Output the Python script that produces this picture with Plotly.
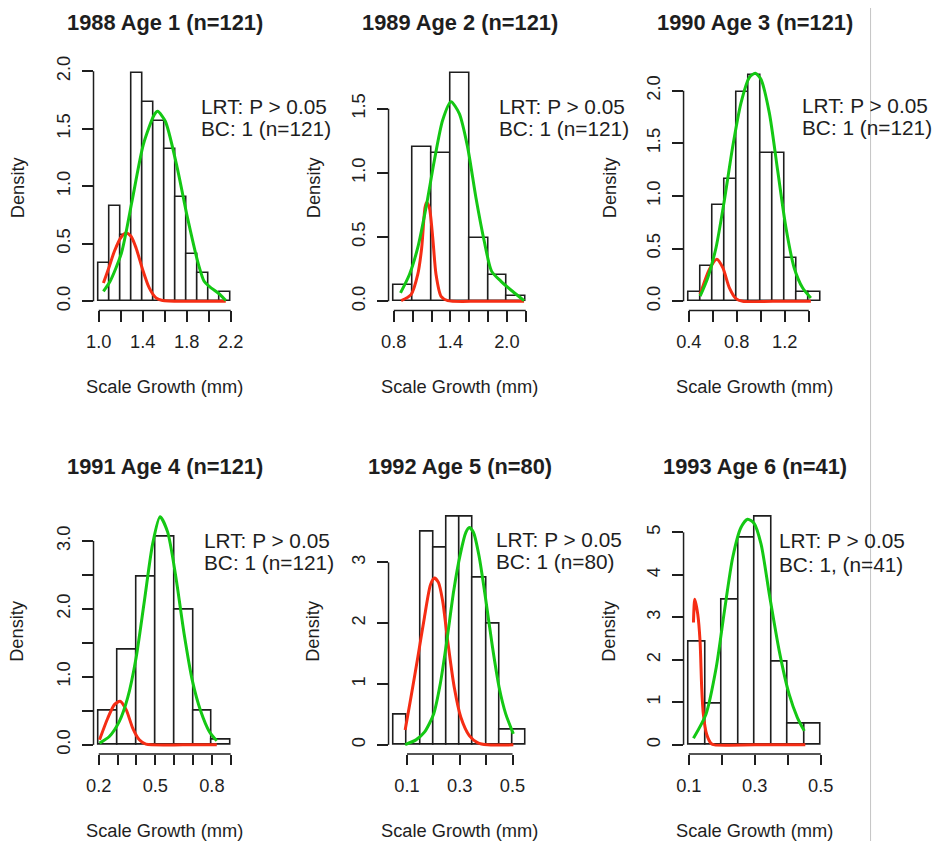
import plotly.graph_objects as go

# ---------------- data ----------------
titles = ["1988 Age 1 (n=121)", "1989 Age 2 (n=121)", "1990 Age 3 (n=121)",
          "1991 Age 4 (n=121)", "1992 Age 5 (n=80)", "1993 Age 6 (n=41)"]

lrt_text = ["LRT: P > 0.05"] * 6
bc_text = ["BC: 1 (n=121)", "BC: 1 (n=121)", "BC: 1 (n=121)",
           "BC: 1 (n=121)", "BC: 1 (n=80)", "BC: 1, (n=41)"]

x_label = "Scale Growth (mm)"
y_label = "Density"

# histogram bin edges and densities
breaks_1988 = [1.0, 1.1, 1.2, 1.3, 1.4, 1.5, 1.6, 1.7, 1.8, 1.9, 2.0, 2.1, 2.2]
dens_1988 = [0.331, 0.826, 0.579, 1.983, 1.736, 1.570, 1.322, 0.909, 0.413, 0.248, 0.0, 0.083]

breaks_1989 = [0.8, 1.0, 1.2, 1.4, 1.6, 1.8, 2.0, 2.2]
dens_1989 = [0.124, 1.198, 1.157, 1.777, 0.496, 0.207, 0.041]

breaks_1990 = [0.4, 0.5, 0.6, 0.7, 0.8, 0.9, 1.0, 1.1, 1.2, 1.3, 1.4, 1.5]
dens_1990 = [0.083, 0.331, 0.909, 1.157, 1.983, 2.149, 1.405, 1.405, 0.413, 0.083, 0.083]

breaks_1991 = [0.2, 0.3, 0.4, 0.5, 0.6, 0.7, 0.8, 0.9]
dens_1991 = [0.496, 1.405, 2.479, 3.058, 1.983, 0.496, 0.083]

breaks_1992 = [0.05, 0.10, 0.15, 0.20, 0.25, 0.30, 0.35, 0.40, 0.45, 0.50, 0.55]
dens_1992 = [0.5, 0.0, 3.5, 3.25, 3.75, 3.75, 2.75, 2.0, 0.25, 0.25]

breaks_1993 = [0.10, 0.15, 0.20, 0.25, 0.30, 0.35, 0.40, 0.45, 0.50]
dens_1993 = [2.439, 0.976, 3.415, 4.878, 5.366, 1.951, 0.488, 0.488]

# fitted component curves (green = main, red = minor)
green_x_1988 = [1.042, 1.103, 1.206, 1.302, 1.405, 1.505, 1.535, 1.605, 1.707, 1.807, 1.907, 1.958, 2.004, 2.103, 2.155]
green_y_1988 = [0.087, 0.174, 0.420, 0.870, 1.362, 1.623, 1.652, 1.565, 1.188, 0.725, 0.319, 0.174, 0.130, 0.058, 0.006]
red_x_1988 = [1.042, 1.091, 1.142, 1.203, 1.248, 1.293, 1.339, 1.399, 1.459, 1.520, 1.580, 1.800, 2.155]
red_y_1988 = [0.159, 0.290, 0.435, 0.557, 0.594, 0.565, 0.464, 0.275, 0.116, 0.029, 0.006, 0.0, 0.0]

green_x_1989 = [0.871, 0.966, 1.054, 1.142, 1.230, 1.318, 1.406, 1.495, 1.583, 1.671, 1.759, 1.837, 1.935, 2.059, 2.182]
green_y_1989 = [0.065, 0.209, 0.418, 0.731, 1.097, 1.410, 1.554, 1.462, 1.201, 0.809, 0.470, 0.235, 0.157, 0.078, 0.005]
red_x_1989 = [0.878, 0.983, 1.054, 1.096, 1.131, 1.149, 1.177, 1.213, 1.248, 1.301, 1.371, 1.700, 2.182]
red_y_1989 = [0.005, 0.052, 0.209, 0.418, 0.731, 0.770, 0.731, 0.496, 0.209, 0.039, 0.005, 0.0, 0.0]

green_x_1990 = [0.494, 0.558, 0.627, 0.696, 0.766, 0.835, 0.904, 0.954, 1.001, 1.071, 1.140, 1.209, 1.278, 1.348, 1.417]
green_y_1990 = [0.048, 0.224, 0.511, 0.958, 1.470, 1.885, 2.125, 2.166, 2.109, 1.789, 1.246, 0.703, 0.319, 0.128, 0.032]
red_x_1990 = [0.494, 0.572, 0.633, 0.683, 0.738, 0.793, 0.849, 1.100, 1.417]
red_y_1990 = [0.064, 0.304, 0.399, 0.319, 0.128, 0.026, 0.0, 0.0, 0.0]

green_x_1991 = [0.204, 0.256, 0.309, 0.353, 0.398, 0.442, 0.486, 0.525, 0.565, 0.609, 0.653, 0.697, 0.741, 0.786, 0.826]
green_y_1991 = [0.025, 0.123, 0.345, 0.691, 1.283, 2.121, 2.960, 3.355, 3.133, 2.467, 1.628, 0.937, 0.493, 0.197, 0.059]
red_x_1991 = [0.204, 0.248, 0.283, 0.313, 0.345, 0.380, 0.415, 0.450, 0.650, 0.826]
red_y_1991 = [0.074, 0.395, 0.592, 0.641, 0.518, 0.247, 0.074, 0.010, 0.0, 0.0]

green_x_1992 = [0.093, 0.134, 0.166, 0.201, 0.226, 0.251, 0.277, 0.302, 0.323, 0.336, 0.352, 0.374, 0.399, 0.424, 0.449, 0.474, 0.503]
green_y_1992 = [0.005, 0.082, 0.208, 0.509, 1.002, 1.713, 2.534, 3.136, 3.492, 3.574, 3.492, 3.082, 2.370, 1.604, 0.947, 0.509, 0.181]
red_x_1992 = [0.093, 0.115, 0.141, 0.166, 0.189, 0.204, 0.219, 0.235, 0.254, 0.279, 0.304, 0.336, 0.367, 0.405, 0.503]
red_y_1992 = [0.246, 0.783, 1.440, 2.096, 2.633, 2.742, 2.671, 2.370, 1.713, 0.947, 0.454, 0.153, 0.038, 0.0, 0.0]

green_x_1993 = [0.114, 0.152, 0.183, 0.208, 0.233, 0.258, 0.278, 0.298, 0.319, 0.344, 0.374, 0.404, 0.429, 0.450]
green_y_1993 = [0.157, 0.722, 1.820, 3.153, 4.408, 5.114, 5.310, 5.208, 4.722, 3.545, 2.212, 1.192, 0.643, 0.329]
red_x_1993 = [0.114, 0.118, 0.127, 0.134, 0.139, 0.144, 0.154, 0.168, 0.178, 0.300, 0.453]
red_y_1993 = [2.878, 3.427, 3.075, 2.447, 1.349, 0.722, 0.251, 0.031, 0.0, 0.0, 0.0]

# axis ticks and tick labels
xticks_1988 = [1.0, 1.2, 1.4, 1.6, 1.8, 2.0, 2.2]
xtlab_1988 = ["1.0", "", "1.4", "", "1.8", "", "2.2"]
xticks_1989 = [0.8, 1.0, 1.2, 1.4, 1.6, 1.8, 2.0, 2.2]
xtlab_1989 = ["0.8", "", "", "1.4", "", "", "2.0", ""]
xticks_1990 = [0.4, 0.6, 0.8, 1.0, 1.2, 1.4]
xtlab_1990 = ["0.4", "", "0.8", "", "1.2", ""]
xticks_1991 = [0.2, 0.3, 0.4, 0.5, 0.6, 0.7, 0.8, 0.9]
xtlab_1991 = ["0.2", "", "", "0.5", "", "", "0.8", ""]
xticks_1992 = [0.1, 0.2, 0.3, 0.4, 0.5]
xtlab_1992 = ["0.1", "", "0.3", "", "0.5"]
xticks_1993 = [0.1, 0.2, 0.3, 0.4, 0.5]
xtlab_1993 = ["0.1", "", "0.3", "", "0.5"]

yticks_1988 = [0.0, 0.5, 1.0, 1.5, 2.0]
ytlab_1988 = ["0.0", "0.5", "1.0", "1.5", "2.0"]
yticks_1989 = [0.0, 0.5, 1.0, 1.5]
ytlab_1989 = ["0.0", "0.5", "1.0", "1.5"]
yticks_1990 = [0.0, 0.5, 1.0, 1.5, 2.0]
ytlab_1990 = ["0.0", "0.5", "1.0", "1.5", "2.0"]
yticks_1991 = [0.0, 0.5, 1.0, 1.5, 2.0, 2.5, 3.0]
ytlab_1991 = ["0.0", "", "1.0", "", "2.0", "", "3.0"]
yticks_1992 = [0, 1, 2, 3]
ytlab_1992 = ["0", "1", "2", "3"]
yticks_1993 = [0, 1, 2, 3, 4, 5]
ytlab_1993 = ["0", "1", "2", "3", "4", "5"]

panels = [
    dict(br=breaks_1988, d=dens_1988, gx=green_x_1988, gy=green_y_1988, rx=red_x_1988, ry=red_y_1988,
         xt=xticks_1988, xl=xtlab_1988, yt=yticks_1988, yl=ytlab_1988),
    dict(br=breaks_1989, d=dens_1989, gx=green_x_1989, gy=green_y_1989, rx=red_x_1989, ry=red_y_1989,
         xt=xticks_1989, xl=xtlab_1989, yt=yticks_1989, yl=ytlab_1989),
    dict(br=breaks_1990, d=dens_1990, gx=green_x_1990, gy=green_y_1990, rx=red_x_1990, ry=red_y_1990,
         xt=xticks_1990, xl=xtlab_1990, yt=yticks_1990, yl=ytlab_1990),
    dict(br=breaks_1991, d=dens_1991, gx=green_x_1991, gy=green_y_1991, rx=red_x_1991, ry=red_y_1991,
         xt=xticks_1991, xl=xtlab_1991, yt=yticks_1991, yl=ytlab_1991),
    dict(br=breaks_1992, d=dens_1992, gx=green_x_1992, gy=green_y_1992, rx=red_x_1992, ry=red_y_1992,
         xt=xticks_1992, xl=xtlab_1992, yt=yticks_1992, yl=ytlab_1992),
    dict(br=breaks_1993, d=dens_1993, gx=green_x_1993, gy=green_y_1993, rx=red_x_1993, ry=red_y_1993,
         xt=xticks_1993, xl=xtlab_1993, yt=yticks_1993, yl=ytlab_1993),
]

# ---------------- layout / style ----------------
FIG_W, FIG_H = 938, 842
# observed capture mapping: screen = VIEW_SCALE * page + VIEW_OFF  (compensated below)
VIEW_SCALE_X = 0.985
VIEW_SCALE_Y = 0.988
VIEW_OFF = 8.0

# target positions in reference-image pixels
COL_LEFT = [94.5, 389.5, 684.5]
REGION_W = 142.5
ROW_TOP = [64.0, 507.0]
REGION_H = 246.0
TITLE_Y = [22.0, 466.0]
XLAB_Y = [386.0, 829.0]
YLAB_X = [18.0, 314.0, 610.0]
# LRT / BC text: (left px, line-1 centre px, line-2 centre px)
NOTE_POS = [(200.0, 106.0, 128.0), (498.0, 106.0, 128.0), (800.5, 105.0, 127.0),
            (203.0, 540.0, 562.0), (495.0, 538.5, 561.0), (777.5, 539.5, 564.0)]

FONT = "Liberation Sans, Arial, Helvetica, sans-serif"
INK = "#1e1e1e"
GREEN = "#14c814"
RED = "#f52d14"


def s(v):
    return v / VIEW_SCALE_X


def fx(p):
    return ((p - VIEW_OFF) / VIEW_SCALE_X) / FIG_W


def fy(p):
    return 1 - ((p - VIEW_OFF) / VIEW_SCALE_Y) / FIG_H


fig = go.Figure()
layout = dict(width=FIG_W, height=FIG_H, autosize=False,
              margin=dict(l=0, r=0, t=0, b=0),
              paper_bgcolor="white", plot_bgcolor="white",
              showlegend=False, bargap=0, font=dict(family=FONT, color=INK, size=s(18)))
shapes = []
annotations = []

for i, p in enumerate(panels):
    r, c = divmod(i, 3)
    xr = "x" if i == 0 else f"x{i + 1}"
    yr = "y" if i == 0 else f"y{i + 1}"
    xa = "xaxis" if i == 0 else f"xaxis{i + 1}"
    ya = "yaxis" if i == 0 else f"yaxis{i + 1}"

    br = p["br"]
    mids = [(br[j] + br[j + 1]) / 2 for j in range(len(br) - 1)]
    widths = [br[j + 1] - br[j] for j in range(len(br) - 1)]
    fig.add_trace(go.Bar(x=mids, y=p["d"], width=widths, xaxis=xr, yaxis=yr,
                         marker=dict(color="white", line=dict(color=INK, width=1.6)),
                         hoverinfo="skip"))
    fig.add_trace(go.Scatter(x=p["rx"], y=p["ry"], mode="lines", xaxis=xr, yaxis=yr,
                             line=dict(color=RED, width=3, shape="spline", smoothing=0.7),
                             hoverinfo="skip"))
    fig.add_trace(go.Scatter(x=p["gx"], y=p["gy"], mode="lines", xaxis=xr, yaxis=yr,
                             line=dict(color=GREEN, width=3, shape="spline", smoothing=0.7),
                             hoverinfo="skip"))

    x0, x1 = br[0], br[-1]
    dx = (x1 - x0) * 0.04
    ytop = max(max(p["d"]), max(p["gy"]), max(p["ry"]))
    dy = ytop * 0.04

    left = COL_LEFT[c]
    top = ROW_TOP[r]
    layout[xa] = dict(domain=[fx(left), fx(left + REGION_W)], range=[x0 - dx, x1 + dx],
                      anchor=yr, showgrid=False, zeroline=False, showline=False,
                      ticks="outside", ticklen=s(10), tickwidth=1.5, tickcolor=INK,
                      tickmode="array", tickvals=p["xt"], ticktext=p["xl"],
                      tickfont=dict(family=FONT, size=s(18), color=INK), ticklabelstandoff=5,
                      fixedrange=True)
    layout[ya] = dict(domain=[fy(top + REGION_H), fy(top)], range=[-dy, ytop + dy],
                      anchor=xr, showgrid=False, zeroline=False, showline=False,
                      ticks="outside", ticklen=s(10), tickwidth=1.5, tickcolor=INK,
                      tickmode="array", tickvals=p["yt"], ticktext=p["yl"], tickangle=-90,
                      tickfont=dict(family=FONT, size=s(18), color=INK), ticklabelstandoff=5,
                      fixedrange=True)

    # R-style axis lines spanning first to last tick
    shapes.append(dict(type="line", xref=xr, yref=f"{yr} domain",
                       x0=p["xt"][0], x1=p["xt"][-1], y0=0, y1=0,
                       line=dict(color=INK, width=1.5)))
    shapes.append(dict(type="line", xref=f"{xr} domain", yref=yr,
                       x0=0, x1=0, y0=p["yt"][0], y1=p["yt"][-1],
                       line=dict(color=INK, width=1.5)))

    cx = left + REGION_W / 2
    annotations.append(dict(text=f"<b>{titles[i]}</b>", xref="paper", yref="paper",
                            x=fx(cx), y=fy(TITLE_Y[r]), xanchor="center", yanchor="middle",
                            showarrow=False, font=dict(family=FONT, size=s(21.5), color=INK)))
    annotations.append(dict(text=x_label, xref="paper", yref="paper",
                            x=fx(cx), y=fy(XLAB_Y[r]), xanchor="center", yanchor="middle",
                            showarrow=False, font=dict(family=FONT, size=s(18), color=INK)))
    annotations.append(dict(text=y_label, xref="paper", yref="paper", textangle=-90,
                            x=fx(YLAB_X[c]), y=fy(top + REGION_H / 2),
                            xanchor="center", yanchor="middle",
                            showarrow=False, font=dict(family=FONT, size=s(18), color=INK)))
    nx, ny1, ny2 = NOTE_POS[i]
    annotations.append(dict(text=lrt_text[i], xref="paper", yref="paper",
                            x=fx(nx), y=fy(ny1), xanchor="left", yanchor="middle",
                            showarrow=False, font=dict(family=FONT, size=s(20.5), color=INK)))
    annotations.append(dict(text=bc_text[i], xref="paper", yref="paper",
                            x=fx(nx), y=fy(ny2), xanchor="left", yanchor="middle",
                            showarrow=False, font=dict(family=FONT, size=s(20.5), color=INK)))

# thin grey page edge line seen in the reference
shapes.append(dict(type="line", xref="paper", yref="paper", x0=fx(871.5), x1=fx(871.5),
                   y0=0, y1=1, line=dict(color="#c4c4c4", width=1), layer="above"))

layout["shapes"] = shapes
layout["annotations"] = annotations
fig.update_layout(**layout)

# remove the browser's default page margin so the figure sits at the window origin
page_fix = ("document.body.style.margin='0';document.body.style.padding='0';"
            "document.documentElement.style.overflow='hidden';")
fig.write_html("out.html", post_script=page_fix, config={"displayModeBar": False})
